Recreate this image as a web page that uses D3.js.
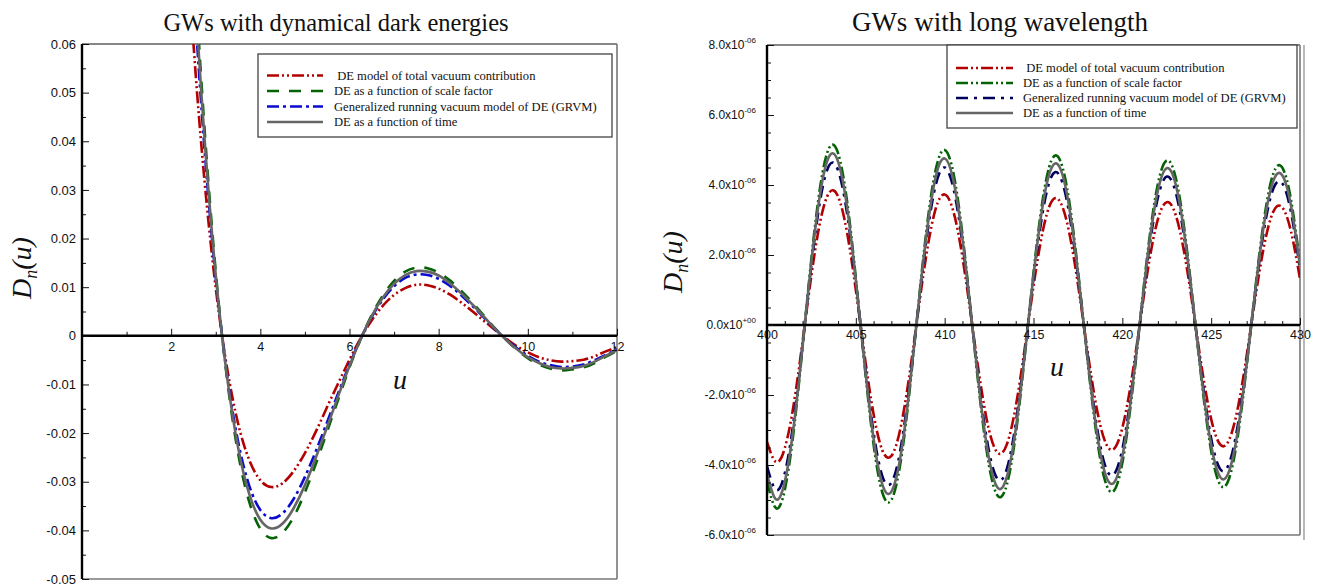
<!DOCTYPE html>
<html><head><meta charset="utf-8">
<script src="https://cdn.jsdelivr.net/npm/d3@7"></script>
<style>
body{margin:0;background:#fff;}
svg{display:block;}
text{white-space:pre;}
</style></head>
<body>
<svg id="chart" width="1317" height="588"></svg>
<script>
// ================= DATA =================
const seriesNames = [" DE model of total vacuum contribution", "DE as a function of scale factor", "Generalized running vacuum model of DE (GRVM)", "DE as a function of time"];
const leftTitle = "GWs with dynamical dark energies";
const rightTitle = "GWs with long wavelength";

// Left panel: D_n(u) vs u
const leftU = [2.25, 2.5, 2.75, 3, 3.25, 3.5, 3.75, 4, 4.25, 4.5, 4.75, 5, 5.25, 5.5, 5.75, 6, 6.25, 6.5, 6.75, 7, 7.25, 7.5, 7.75, 8, 8.25, 8.5, 8.75, 9, 9.25, 9.5, 9.75, 10, 10.25, 10.5, 10.75, 11, 11.25, 11.5, 11.75, 12];
const leftVacuum = [0.0965, 0.0601, 0.0317, 0.0098, -0.0064, -0.0180, -0.0255, -0.0297, -0.0311, -0.0303, -0.0278, -0.0241, -0.0196, -0.0146, -0.0097, -0.0049, -0.0005, 0.0032, 0.0062, 0.0084, 0.0098, 0.0105, 0.0104, 0.0097, 0.0085, 0.0069, 0.0051, 0.0032, 0.0013, -0.0005, -0.0021, -0.0034, -0.0044, -0.0050, -0.0053, -0.0052, -0.0049, -0.0042, -0.0032, -0.0023];
const leftScaleFactor = [0.1291, 0.0804, 0.0424, 0.0132, -0.0086, -0.0241, -0.0341, -0.0397, -0.0416, -0.0405, -0.0372, -0.0322, -0.0262, -0.0196, -0.0130, -0.0065, -0.0007, 0.0043, 0.0083, 0.0113, 0.0132, 0.0140, 0.0139, 0.0130, 0.0114, 0.0093, 0.0069, 0.0043, 0.0017, -0.0007, -0.0028, -0.0046, -0.0059, -0.0067, -0.0071, -0.0069, -0.0065, -0.0056, -0.0043, -0.0031];
const leftGRVM = [0.1164, 0.0725, 0.0382, 0.0119, -0.0078, -0.0217, -0.0308, -0.0358, -0.0375, -0.0365, -0.0335, -0.0290, -0.0236, -0.0177, -0.0117, -0.0059, -0.0006, 0.0039, 0.0075, 0.0102, 0.0119, 0.0126, 0.0125, 0.0117, 0.0103, 0.0084, 0.0062, 0.0039, 0.0015, -0.0006, -0.0025, -0.0041, -0.0053, -0.0060, -0.0064, -0.0063, -0.0059, -0.0050, -0.0039, -0.0028];
const leftTime = [0.1230, 0.0766, 0.0404, 0.0125, -0.0082, -0.0229, -0.0325, -0.0378, -0.0396, -0.0386, -0.0354, -0.0307, -0.0249, -0.0187, -0.0123, -0.0062, -0.0007, 0.0041, 0.0079, 0.0107, 0.0125, 0.0133, 0.0132, 0.0124, 0.0108, 0.0088, 0.0065, 0.0041, 0.0016, -0.0007, -0.0027, -0.0044, -0.0056, -0.0064, -0.0067, -0.0066, -0.0062, -0.0053, -0.0041, -0.0030];
const leftXLabels = [2, 4, 6, 8, 10, 12];
const leftXMinor = [1, 3, 5, 7, 9, 11];
const leftYTicks = [0.06, 0.05, 0.04, 0.03, 0.02, 0.01, 0, -0.01, -0.02, -0.03, -0.04, -0.05];
const leftYMinor = [0.055, 0.045, 0.035, 0.025, 0.015, 0.005, -0.005, -0.015, -0.025, -0.035, -0.045];

// Right panel: D_n(u) vs u, values in units of 1e-6
const rightU = [400, 400.5, 401, 401.5, 402, 402.5, 403, 403.5, 404, 404.5, 405, 405.5, 406, 406.5, 407, 407.5, 408, 408.5, 409, 409.5, 410, 410.5, 411, 411.5, 412, 412.5, 413, 413.5, 414, 414.5, 415, 415.5, 416, 416.5, 417, 417.5, 418, 418.5, 419, 419.5, 420, 420.5, 421, 421.5, 422, 422.5, 423, 423.5, 424, 424.5, 425, 425.5, 426, 426.5, 427, 427.5, 428, 428.5, 429, 429.5, 430];
const rightVacuum = [-3.34, -3.91, -3.52, -2.28, -0.48, 1.42, 2.97, 3.78, 3.67, 2.66, 1.00, -0.89, -2.55, -3.59, -3.74, -2.98, -1.49, 0.35, 2.10, 3.33, 3.73, 3.23, 1.94, 0.18, -1.61, -3.01, -3.66, -3.41, -2.33, -0.69, 1.11, 2.63, 3.51, 3.52, 2.67, 1.17, -0.60, -2.22, -3.29, -3.55, -2.94, -1.62, 0.09, 1.78, 3.02, 3.51, 3.15, 2.02, 0.40, -1.31, -2.69, -3.41, -3.29, -2.37, -0.87, 0.83, 2.32, 3.24, 3.36, 2.66, 1.32];
const rightScaleFactor = [-4.47, -5.23, -4.71, -3.04, -0.64, 1.90, 3.97, 5.06, 4.91, 3.56, 1.34, -1.19, -3.42, -4.80, -5.00, -3.98, -2.00, 0.47, 2.81, 4.45, 5.00, 4.32, 2.59, 0.24, -2.16, -4.02, -4.89, -4.56, -3.12, -0.92, 1.49, 3.52, 4.69, 4.70, 3.57, 1.57, -0.80, -2.97, -4.40, -4.75, -3.94, -2.17, 0.13, 2.38, 4.03, 4.70, 4.22, 2.70, 0.54, -1.75, -3.60, -4.56, -4.40, -3.17, -1.17, 1.11, 3.10, 4.33, 4.50, 3.56, 1.76];
const rightGRVM = [-4.03, -4.71, -4.24, -2.74, -0.58, 1.72, 3.58, 4.56, 4.42, 3.21, 1.21, -1.07, -3.08, -4.33, -4.51, -3.59, -1.80, 0.42, 2.53, 4.01, 4.50, 3.89, 2.34, 0.22, -1.95, -3.62, -4.41, -4.11, -2.81, -0.83, 1.34, 3.17, 4.23, 4.24, 3.22, 1.41, -0.72, -2.68, -3.97, -4.28, -3.55, -1.95, 0.11, 2.14, 3.64, 4.24, 3.80, 2.44, 0.48, -1.58, -3.24, -4.11, -3.97, -2.86, -1.05, 1.00, 2.80, 3.90, 4.05, 3.21, 1.59];
const rightTime = [-4.25, -4.98, -4.48, -2.90, -0.61, 1.81, 3.78, 4.82, 4.67, 3.39, 1.28, -1.13, -3.25, -4.57, -4.76, -3.80, -1.90, 0.44, 2.67, 4.24, 4.76, 4.11, 2.47, 0.23, -2.06, -3.83, -4.66, -4.34, -2.97, -0.88, 1.42, 3.36, 4.47, 4.48, 3.40, 1.50, -0.77, -2.83, -4.19, -4.52, -3.75, -2.06, 0.12, 2.26, 3.84, 4.48, 4.02, 2.57, 0.51, -1.67, -3.43, -4.34, -4.19, -3.02, -1.11, 1.05, 2.96, 4.12, 4.28, 3.39, 1.68];
const rightXLabels = [400, 405, 410, 415, 420, 425, 430];
const rightXMinor = [401,402,403,404,406,407,408,409,411,412,413,414,416,417,418,419,421,422,423,424,426,427,428,429];
const rightYTicks = [8, 6, 4, 2, 0, -2, -4, -6];
const rightYMinor = [7.5,7,6.5,5.5,5,4.5,3.5,3,2.5,1.5,1,0.5,-0.5,-1,-1.5,-2.5,-3,-3.5,-4.5,-5,-5.5];

// ================= DRAWING =================
const svg = d3.select("#chart");
const defs = svg.append("defs");
const SERIF = "'Liberation Serif','Times New Roman',serif";
const SANS = "'Liberation Sans',Arial,sans-serif";

function panel(o) {
  const g = svg.append("g");
  const x = d3.scaleLinear().domain(o.xDomain).range([o.left, o.right]);
  const y = d3.scaleLinear().domain(o.yDomain).range([o.bottom, o.top]);
  defs.append("clipPath").attr("id", o.id).append("rect")
    .attr("x", o.left).attr("y", o.top).attr("width", o.right - o.left).attr("height", o.bottom - o.top);

  // frame
  g.append("line").attr("x1", o.left).attr("x2", o.right).attr("y1", o.top).attr("y2", o.top).attr("stroke", "#111").attr("stroke-width", 1.2);
  g.append("line").attr("x1", o.right).attr("x2", o.right).attr("y1", o.top).attr("y2", o.bottom).attr("stroke", "#777").attr("stroke-width", 1.6);
  g.append("line").attr("x1", o.left).attr("x2", o.right).attr("y1", o.bottom).attr("y2", o.bottom).attr("stroke", "#777").attr("stroke-width", 1.6);
  if (o.extraRight) g.append("line").attr("x1", o.extraRight).attr("x2", o.extraRight).attr("y1", o.top).attr("y2", o.bottom + 5).attr("stroke", "#888").attr("stroke-width", 1.2);

  // series
  const line = d3.line().x(d => x(d[0])).y(d => y(d[1])).curve(d3.curveNatural);
  o.series.forEach(s => {
    g.append("path").datum(o.u.map((u, i) => [u, s.values[i]]))
      .attr("clip-path", `url(#${o.id})`)
      .attr("d", line).attr("fill", "none")
      .attr("stroke", s.color).attr("stroke-width", s.width)
      .attr("stroke-dasharray", s.dash);
  });

  // x axis at zero
  const ax = g.append("g").attr("transform", `translate(0,${y(0)})`);
  ax.append("g").call(d3.axisTop(x).tickValues(o.xMinor).tickSize(4).tickFormat(""));
  ax.append("g").call(d3.axisTop(x).tickValues(o.xLabels).tickSize(7).tickFormat(""));
  const lab = ax.append("g").call(d3.axisBottom(x).tickValues(o.xLabels).tickSize(0).tickPadding(o.xPad).tickFormat(d => String(d)));
  ax.selectAll(".domain").remove();
  ax.append("line").attr("x1", o.left).attr("x2", o.right).attr("stroke", "#000").attr("stroke-width", 2.6);
  ax.selectAll(".tick line").attr("stroke", "#111").attr("stroke-width", 1);
  lab.selectAll("text").attr("font-family", SANS).attr("font-size", 12.5).attr("fill", "#111");

  // y axis
  const ay = g.append("g").attr("transform", `translate(${o.left},0)`);
  ay.append("g").call(d3.axisLeft(y).tickValues(o.yMinor).tickSizeInner(-4).tickSizeOuter(0).tickFormat(""));
  const yl = ay.append("g").call(d3.axisLeft(y).tickValues(o.yTicks).tickSizeInner(-7).tickSizeOuter(0).tickPadding(o.yPad).tickFormat(o.yFormat));
  ay.selectAll(".domain").remove();
  ay.append("line").attr("y1", o.top).attr("y2", o.bottom).attr("stroke", "#000").attr("stroke-width", 2.4);
  ay.selectAll(".tick line").attr("stroke", "#111").attr("stroke-width", 1);
  yl.selectAll("text").attr("font-family", SANS).attr("font-size", o.ySize).attr("fill", "#111");
  if (o.ySup) {
    yl.selectAll(".tick text").each(function(d) {
      const t = d3.select(this);
      t.text(o.yFormat(d));
      t.append("tspan").attr("dy", -6).attr("font-size", 8).text(o.ySup(d));
    });
  }

  // titles and labels
  svg.append("text").attr("x", o.titleX).attr("y", o.titleY).attr("text-anchor", "middle")
    .attr("font-family", SERIF).attr("font-size", o.titleSize).attr("fill", "#111").text(o.title);
  svg.append("text").attr("x", o.uX).attr("y", o.uY).attr("text-anchor", "middle")
    .attr("font-family", SERIF).attr("font-style", "italic").attr("font-size", 28).attr("fill", "#111").text("u");
  const yt = svg.append("text").attr("transform", `translate(${o.dX},${o.dY}) rotate(-90)`).attr("text-anchor", "middle")
    .attr("font-family", SERIF).attr("font-style", "italic").attr("font-size", 28).attr("fill", "#111");
  yt.append("tspan").text("D");
  yt.append("tspan").attr("font-size", 18).attr("dy", 6).text("n");
  yt.append("tspan").attr("dy", -6).text("(u)");

  // legend
  const lg = svg.append("g");
  lg.append("rect").attr("x", o.leg.x).attr("y", o.leg.y).attr("width", o.leg.w).attr("height", o.leg.h)
    .attr("fill", "#fff").attr("stroke", "#444").attr("stroke-width", 1.3);
  o.series.forEach((s, i) => {
    const yy = o.leg.row0 + i * o.leg.dy;
    lg.append("line").attr("x1", o.leg.lx1).attr("x2", o.leg.lx2).attr("y1", yy).attr("y2", yy)
      .attr("stroke", s.color).attr("stroke-width", s.width).attr("stroke-dasharray", s.dash);
    lg.append("text").attr("x", o.leg.tx).attr("y", yy + 4).attr("font-family", SERIF).attr("font-size", 12.6)
      .attr("fill", "#111").text(seriesNames[i]);
  });
}

const fmtLeft = d => d === 0 ? "0" : d.toFixed(2);

panel({
  id: "clipL", left: 82, right: 617, top: 44, bottom: 579,
  xDomain: [0, 12], yDomain: [-0.05, 0.06],
  u: leftU,
  series: [
    {values: leftVacuum, color: "#b30000", width: 2.6, dash: "12,3,2,3,2,3"},
    {values: leftScaleFactor, color: "#056205", width: 2.6, dash: "12,10"},
    {values: leftGRVM, color: "#0a0ad0", width: 2.6, dash: "12,4,3,4"},
    {values: leftTime, color: "#666666", width: 2.6, dash: null}
  ],
  xLabels: leftXLabels, xMinor: leftXMinor, xPad: 6,
  yTicks: leftYTicks, yMinor: leftYMinor, yPad: 6, yFormat: fmtLeft, ySize: 13,
  title: leftTitle, titleX: 336, titleY: 31, titleSize: 24.5,
  uX: 400, uY: 389, dX: 31, dY: 268,
  leg: {x: 258, y: 54, w: 354, h: 83, row0: 75.5, dy: 15.5, lx1: 267, lx2: 323, tx: 334}
});

panel({
  id: "clipR", left: 767, right: 1300, top: 45, bottom: 535, extraRight: 1304,
  xDomain: [400, 430], yDomain: [-6, 8],
  u: rightU,
  series: [
    {values: rightVacuum, color: "#b30000", width: 2.6, dash: "12,3,2,3,2,3"},
    {values: rightScaleFactor, color: "#056205", width: 2.6, dash: "12,3,2,3,2,3"},
    {values: rightGRVM, color: "#00005e", width: 2.6, dash: "12,6,3,6"},
    {values: rightTime, color: "#666666", width: 2.6, dash: null}
  ],
  xLabels: rightXLabels, xMinor: rightXMinor, xPad: 5,
  yTicks: rightYTicks, yMinor: rightYMinor, yPad: 11, ySize: 12,
  yFormat: d => d.toFixed(1) + "x10",
  ySup: d => d === 0 ? "+00" : "-06",
  title: rightTitle, titleX: 1000, titleY: 31, titleSize: 27,
  uX: 1057, uY: 376, dX: 682, dY: 262,
  leg: {x: 947, y: 45, w: 350, h: 83, row0: 68, dy: 15, lx1: 956, lx2: 1013, tx: 1023}
});
</script>
</body></html>
